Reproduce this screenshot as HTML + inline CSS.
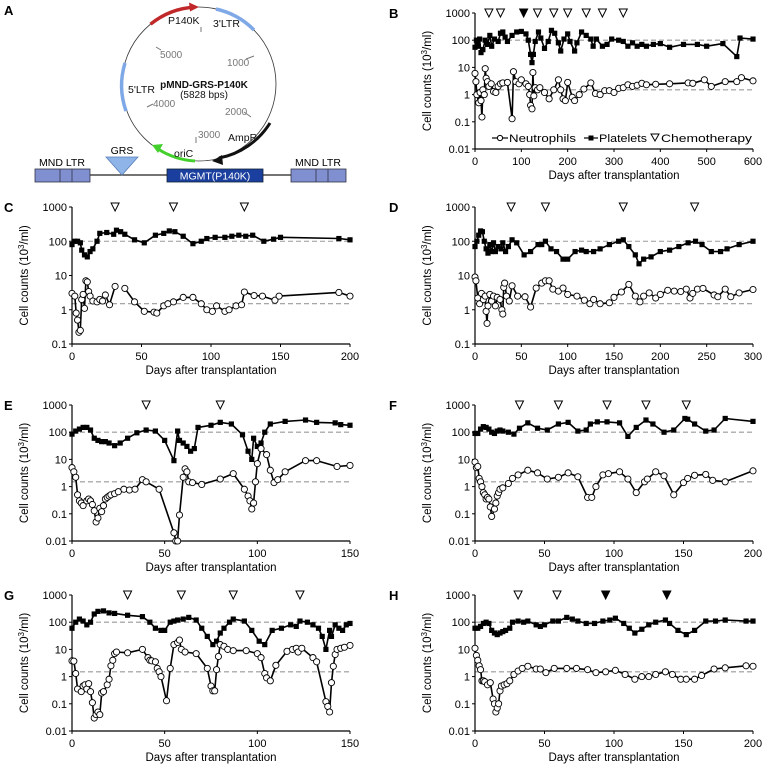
<!DOCTYPE html>
<html><head><meta charset="utf-8"><style>
body{margin:0;background:#fff}
svg{display:block;font-family:"Liberation Sans",sans-serif}
</style></head><body>
<svg id="fig" width="768" height="773" viewBox="0 0 768 773" xmlns="http://www.w3.org/2000/svg">
<g>
<text x="4" y="15" font-size="13" font-weight="bold">A</text>
<circle cx="199" cy="84" r="77" fill="none" stroke="#333" stroke-width="0.8"/>
<path d="M150.5,24.2 A77,77 0 0 1 195,7.1" fill="none" stroke="#c0282a" stroke-width="3.5"/>
<polygon points="199,7 189,2.5 190,11.5" fill="#c0282a"/>
<path d="M216,9 A77,77 0 0 1 254,30" fill="none" stroke="#7fa8e6" stroke-width="3.5"/>
<path d="M270,123 A77,77 0 0 1 219,158" fill="none" stroke="#111" stroke-width="3"/>
<polygon points="212,161 222,155 223,165" fill="#111"/>
<path d="M195,161 A77,77 0 0 1 158,149" fill="none" stroke="#44d02c" stroke-width="3"/>
<polygon points="152,145 163,144 158,153" fill="#44d02c"/>
<path d="M126,111 A77,77 0 0 1 125,63" fill="none" stroke="#7fa8e6" stroke-width="3.5"/>
<g font-size="10.5" fill="#111">
<text x="168" y="24">P140K</text>
<text x="213" y="27">3'LTR</text>
<text x="128" y="93">5'LTR</text>
<text x="228" y="141">AmpR</text>
<text x="174" y="157">oriC</text>
<text x="204" y="88" font-weight="bold" text-anchor="middle" font-size="10">pMND-GRS-P140K</text>
<text x="204" y="98" text-anchor="middle" font-size="10">(5828 bps)</text>
</g>
<g font-size="10" fill="#777" stroke="none">
<line x1="201" y1="27" x2="201" y2="32" stroke="#777"/>
<text x="160" y="58">5000</text>
<line x1="156" y1="47" x2="161" y2="50" stroke="#777"/>
<text x="227" y="66">1000</text>
<line x1="246" y1="59" x2="254" y2="56" stroke="#777"/>
<text x="153" y="107">4000</text>
<line x1="147" y1="107" x2="153" y2="104" stroke="#777"/>
<text x="225" y="115">2000</text>
<line x1="244" y1="112" x2="251" y2="117" stroke="#777"/>
<text x="198" y="138">3000</text>
<line x1="196" y1="137" x2="196" y2="143" stroke="#777"/>
</g>
<line x1="90" y1="175" x2="291" y2="175" stroke="#222" stroke-width="1.2"/>
<g stroke="#334" stroke-width="0.8" fill="#7f8fcf">
<rect x="35" y="169" width="55" height="13"/><line x1="60" y1="169" x2="60" y2="182"/><line x1="72" y1="169" x2="72" y2="182"/>
</g>
<g stroke="#334" stroke-width="0.8" fill="#7f8fcf">
<rect x="291" y="169" width="55" height="13"/><line x1="316" y1="169" x2="316" y2="182"/><line x1="328" y1="169" x2="328" y2="182"/>
</g>
<text x="62" y="166" font-size="10.5" text-anchor="middle">MND LTR</text>
<text x="318" y="166" font-size="10.5" text-anchor="middle">MND LTR</text>
<polygon points="106,157 138,157 122,175" fill="#8fb4e8" stroke="#5a7fb8" stroke-width="0.8"/>
<text x="122" y="154" font-size="10.5" text-anchor="middle">GRS</text>
<rect x="167" y="169" width="96" height="13" fill="#1a3f9e" stroke="#123" stroke-width="0.8"/>
<text x="215" y="179.5" font-size="10.5" fill="#fff" text-anchor="middle">MGMT(P140K)</text>
</g>
</svg>
<script>
// ===== Panel B =====
const bPlateDays=[0,3,6,10,13,17,22,27,32,36,42,50,55,60,65,70,80,90,100,110,115,120,123,126,130,137,142,150,158,165,172,180,185,192,200,205,215,220,230,240,250,255,262,275,285,295,310,320,330,340,350,360,370,385,400,420,450,480,500,535,565,572,600];
const bPlateVals=[55,100,60,110,35,45,100,70,150,60,110,90,180,200,130,90,150,200,210,170,100,30,15,30,90,200,120,50,90,230,180,80,40,110,170,90,40,80,200,150,110,60,110,60,70,110,100,90,60,80,60,70,60,70,75,55,70,70,60,75,25,120,110];
const bNeuDays=[0,2,4,8,11,13,15,17,20,22,24,27,30,35,40,45,50,55,60,70,80,83,88,95,100,110,115,118,120,123,125,127,130,135,140,150,160,170,180,185,190,195,200,210,215,225,235,250,260,270,280,290,300,310,320,330,340,350,360,370,390,420,460,470,495,510,540,565,575,600];
const bNeuVals=[6,3,1,0.5,1.2,0.6,0.15,1.5,1,9,4,3,2,2.5,1.3,1.2,2,2.5,2.7,2.8,0.13,7,3,2.5,3.5,2.5,2,1,0.4,0.3,6.5,0.9,1.8,1.5,1.8,1.2,0.7,1.5,3.5,1.5,0.7,0.6,2.8,0.8,0.6,1,1.6,2.7,1.1,1,1.4,1.4,1.2,1.7,1.8,2.3,2,2.2,2.6,2.3,2.4,2.5,2.7,2.6,3.5,2,3,3,4.2,3.2];
const bChemoOpen=[30,55,135,170,200,240,275,320];
const bChemoFilled=[105];
// ===== Panel C =====
const cPlateDays=[0,2,4,6,7,9,11,13,15,18,20,25,30,32,35,38,45,52,60,66,70,74,80,87,93,97,103,110,115,120,125,130,138,145,150,192,200];
const cPlateVals=[80,100,100,90,55,40,35,50,60,100,170,180,160,210,190,160,110,90,150,170,200,190,140,85,100,120,130,130,140,150,140,150,100,115,130,120,110];
const cNeuDays=[0,2,3,4,5,6,7,8,9,10,11,12,13,15,18,20,22,24,27,31,null,38,45,52,59,61,66,69,73,80,87,93,97,101,104,110,113,118,122,124,131,137,146,149,192,200];
const cNeuVals=[3,2.5,0.8,0.5,0.22,0.25,2,2.8,1.1,7,6.5,3.4,2.5,1.8,1.7,2,1.8,2.7,1.4,4.8,null,4.2,1.7,0.9,0.85,0.8,1.3,1.5,1.7,2.3,2.3,1.5,1,0.9,1.3,0.9,1,1.3,1.4,3.3,2.6,2.5,1.9,2.5,3.2,2.5];
const cChemoOpen=[31,73,124];
const cChemoFilled=[];
// ===== Panel D =====
const dPlateDays=[0,2,4,6,8,10,12,14,16,18,20,22,25,28,30,33,36,40,45,53,60,68,72,76,82,88,95,100,108,115,120,128,135,145,155,160,166,173,177,182,190,200,210,220,230,238,245,255,265,272,285,300];
const dPlateVals=[70,100,150,200,190,100,60,45,80,50,90,50,70,60,90,50,70,110,90,40,50,80,80,100,60,50,30,30,50,55,50,50,60,80,100,110,70,40,22,30,35,50,55,70,90,100,80,50,50,60,80,100];
const dNeuDays=[0,1,3,5,7,9,11,12,13,14,16,18,20,22,24,27,29,30,31,32,34,37,40,46,54,60,66,72,76,80,84,90,95,100,110,118,124,128,135,145,150,158,166,173,178,182,188,195,200,208,215,222,228,232,235,240,246,258,262,270,276,285,300];
const dNeuVals=[9,7,2.2,1.5,3,2,2.5,0.9,0.4,1.3,2.8,1.8,2.5,1.3,2.3,2,1,0.75,4.5,6,2.5,1.8,5,2.5,2.4,1.2,4.3,6,7,7,4,3.5,4.3,2.8,2.5,1.9,1.5,2,1.5,1.6,2.3,3.3,5.5,2.5,1.7,2.5,3.1,2.2,2.8,3.7,3.5,3.4,4,2.2,3,4,4.2,2.7,2.4,4,2.4,3.1,3.9];
const dChemoOpen=[39,76,160,237];
const dChemoFilled=[];
// ===== Panel E =====
const ePlateDays=[0,2,4,6,8,10,12,14,16,18,20,23,26,30,35,40,45,50,55,57,58,60,62,64,66,68,75,80,86,92,95,97,98,100,102,104,107,115,126,132,142,145,150];
const ePlateVals=[85,110,130,150,150,120,60,50,45,45,40,32,40,60,95,120,110,50,9,110,50,40,30,20,25,150,180,230,200,80,20,10,60,30,40,100,200,250,280,230,220,190,180];
const eNeuDays=[0,1,2,3,4,5,6,8,9,10,11,12,13,14,15,16,17,18,19,20,21,23,25,28,31,34,38,40,47,55,56,57,58,60,61,62,63,65,70,80,87,93,95,96,97,98,99,100,102,105,107,109,111,115,126,132,143,150];
const eNeuVals=[5,3.5,2.2,0.5,0.3,0.25,0.2,0.3,0.35,0.3,0.22,0.13,0.05,0.07,0.16,0.12,0.2,0.35,0.4,0.45,0.5,0.55,0.65,0.8,0.75,0.8,1.8,1.5,0.8,0.02,0.01,0.01,0.09,2.2,4.5,3.5,1.5,1.4,1.2,1.9,3,0.8,0.45,0.3,0.15,0.25,1.5,7,25,15,4,1.4,1.8,3.5,9,9,5.5,6];
const eChemoOpen=[40,80];
const eChemoFilled=[];
// ===== Panel F =====
const fPlateDays=[0,2,4,6,8,10,12,14,16,18,20,24,28,32,38,45,52,60,67,74,80,83,88,95,104,110,116,123,128,136,143,151,153,158,166,172,180,200];
const fPlateVals=[90,90,130,160,150,130,100,90,110,120,110,100,85,140,220,140,120,200,230,110,120,200,240,240,220,70,150,280,200,100,120,320,300,200,110,120,320,250];
const fNeuDays=[0,1,2,3,4,5,6,7,8,9,10,11,12,14,15,16,17,18,20,24,27,31,38,45,52,60,67,74,81,84,87,92,96,104,110,116,122,124,130,136,143,150,153,158,166,171,180,200];
const fNeuVals=[8,5,5.5,2,1.5,1,0.6,0.5,0.35,0.4,0.35,0.18,0.08,0.15,0.25,0.45,0.6,0.8,0.9,1.3,2,2.7,4,3.2,1.9,2.2,3.2,2.3,0.4,0.4,1,2.7,3,3.5,1.9,0.6,1.5,1.9,3.5,2.5,0.5,1.4,2,2.6,2.8,1.7,1.5,3.8];
const fChemoOpen=[32,60,95,123,152];
const fChemoFilled=[];
// ===== Panel G =====
const gPlateDays=[0,2,4,6,8,10,12,14,17,20,23,30,38,42,45,48,50,53,55,57,60,63,67,70,73,76,78,80,82,85,87,93,97,101,104,108,113,118,121,123,127,130,133,135,137,139,140,142,144,146,148,150];
const gPlateVals=[60,100,130,110,80,100,200,250,260,220,210,180,160,100,60,50,50,100,110,120,130,150,120,60,30,15,20,40,60,100,130,110,50,20,15,50,60,80,70,110,100,80,60,30,10,50,30,80,60,50,80,90];
const gNeuDays=[0,1,2,3,5,6,7,8,9,10,11,12,13,14,15,16,17,19,20,21,22,23,24,30,38,41,42,43,45,46,47,48,51,53,55,57,58,59,61,67,73,75,76,77,78,79,80,82,84,87,94,100,102,104,105,107,110,116,119,121,122,124,130,132,137,138,139,140,141,142,143,145,147,150];
const gNeuVals=[3.8,3.7,1.3,0.35,0.28,0.45,0.5,0.35,0.55,0.28,0.11,0.03,0.04,0.05,0.04,0.25,0.28,0.5,0.8,2.5,4,7,8,7.5,10,5,4,3.8,3.5,2,1.5,1,0.13,2,15,18,22,10,8,7,2,0.45,0.3,0.3,1.8,5.5,15,13,10,9,9,7,5,1.3,0.9,0.7,2.6,8.5,10,11,8,11,5,3.5,0.12,0.08,0.05,0.6,2.4,6.5,10,11,12,14];
const gChemoOpen=[30,59,87,123];
const gChemoFilled=[];
// ===== Panel H =====
const hPlateDays=[0,2,4,6,8,10,12,14,16,18,20,22,25,27,31,35,38,44,47,50,56,60,66,70,74,80,86,92,97,101,107,111,115,120,125,130,137,140,146,152,158,166,173,180,195,200];
const hPlateVals=[60,60,70,90,100,90,50,40,35,40,45,50,60,100,110,100,110,80,70,80,110,110,150,130,110,90,90,110,120,140,90,60,40,55,80,100,120,90,50,35,50,110,110,120,110,110];
const hNeuDays=[0,1,2,3,4,5,6,7,9,11,13,14,15,16,17,18,19,21,23,25,28,31,34,38,44,47,51,57,66,73,81,87,94,101,108,115,120,125,130,137,142,148,152,158,163,172,180,195,200];
const hNeuVals=[11,6,4,2.5,1.8,0.7,0.7,0.65,0.5,0.6,0.15,0.1,0.05,0.07,0.1,0.3,0.45,0.5,0.55,0.7,1.2,1.6,2,2.4,1.9,1.9,1.4,2,2,2,1.8,1.4,1.5,1.7,1.2,0.8,1,1,1.2,1.5,1.2,0.8,0.8,0.8,1.1,1.9,2.1,2.5,2.4];
const hChemoOpen=[31,59];
const hChemoFilled=[94,138];

const NS='http://www.w3.org/2000/svg';
const svg=document.getElementById('fig');
function mk(tag,attrs,parent){const e=document.createElementNS(NS,tag);for(const k in attrs)e.setAttribute(k,attrs[k]);parent.appendChild(e);return e;}

function panel(cfg){
  const g=mk('g',{},svg);
  
  
  const xs=d=>cfg.x0+(d-0)/cfg.xmax*(cfg.x1-cfg.x0);
  const ys=v=>cfg.yTop+(Math.log10(cfg.vmax)-Math.log10(v))/(Math.log10(cfg.vmax)-Math.log10(cfg.vmin))*(cfg.yBot-cfg.yTop);
  const lab=mk('text',{x:cfg.lx,y:cfg.yTop+5,'font-size':13,'font-weight':'bold'},g);
  lab.textContent=cfg.id.toUpperCase();
  
  
  [100,1.5].forEach(v=>{
    const l=mk('line',{x1:cfg.x0,x2:cfg.x1,y1:ys(v),y2:ys(v),stroke:'#999','stroke-width':1.1,'stroke-dasharray':'5,3'},g);
    
    
  });
  const ax=mk('path',{d:`M${cfg.x0},${cfg.yTop}V${cfg.yBot}H${cfg.x1}`,fill:'none',stroke:'#000','stroke-width':1.2},g);
  
  
  cfg.yticks.forEach((v,i)=>{
    mk('line',{x1:cfg.x0-3,x2:cfg.x0,y1:ys(v),y2:ys(v),stroke:'#000'},g);
    const t=mk('text',{x:cfg.x0-5,y:ys(v)+4,'font-size':11,'text-anchor':'end'},g);
    t.textContent=cfg.ylabels[i];
    
    
  });
  cfg.xticks.forEach(v=>{
    mk('line',{x1:xs(v),x2:xs(v),y1:cfg.yBot,y2:cfg.yBot+3,stroke:'#000'},g);
    const t=mk('text',{x:xs(v),y:cfg.yBot+16,'font-size':11,'text-anchor':'middle'},g);
    t.textContent=String(v);
    
    
  });
  const xt=mk('text',{x:(cfg.x0+cfg.x1)/2,y:cfg.yBot+30,'font-size':11.5,'text-anchor':'middle'},g);
  xt.textContent='Days after  transplantation';
  
  
  const cy=(cfg.yTop+cfg.yBot)/2;
  const yt=mk('text',{x:cfg.x0-44,y:cy,'font-size':11.5,'text-anchor':'middle',transform:`rotate(-90 ${cfg.x0-44} ${cy})`},g);
  yt.innerHTML='Cell counts (10<tspan font-size="8" dy="-4">3</tspan><tspan dy="4">/ml)</tspan>';
  
  
  function series(days,vals,kind){
    let d='',pen=false;
    days.forEach((x,i)=>{if(x===null){pen=false;return;}d+=(pen?'L':'M')+xs(x).toFixed(1)+','+ys(vals[i]).toFixed(1);pen=true;});
    const p=mk('path',{d:d,fill:'none',stroke:'#000','stroke-width':1.6,'stroke-linejoin':'round'},g);
    
    
    days.forEach((x,i)=>{
      if(x===null)return;
      let m;
      if(kind==='neutrophils'){m=mk('circle',{cx:xs(x),cy:ys(vals[i]),r:3.1,fill:'#fff',stroke:'#000','stroke-width':0.9},g);}
      else{m=mk('rect',{x:xs(x)-2.6,y:ys(vals[i])-2.6,width:5.2,height:5.2,fill:'#000'},g);}
      
      
    });
  }
  series(cfg.pd,cfg.pv,'platelets');
  series(cfg.nd,cfg.nv,'neutrophils');
  function tri(x,filled){
    const X=xs(x),Y=cfg.yTop;
    const t=mk('polygon',{points:`${X-4},${Y-4} ${X+4},${Y-4} ${X},${Y+4}`,fill:filled?'#000':'#fff',stroke:'#000','stroke-width':1},g);
    
    
  }
  cfg.co.forEach(x=>tri(x,false));
  cfg.cf.forEach(x=>tri(x,true));
  return {g,xs,ys};
}
const Y5=[1000,100,10,1,0.1,0.01],L5=['1000','100','10','1','0.1','0.01'];
const Y4=[1000,100,10,1,0.1],L4=['1000','100','10','1','0.1'];
const B=panel({id:'b',lx:389,x0:475,x1:753,xmax:600,yTop:13,yBot:149,vmax:1000,vmin:0.01,yticks:Y5,ylabels:L5,xticks:[0,100,200,300,400,500,600],pd:bPlateDays,pv:bPlateVals,nd:bNeuDays,nv:bNeuVals,co:bChemoOpen,cf:bChemoFilled});
panel({id:'c',lx:4,x0:72,x1:350,xmax:200,yTop:207,yBot:344,vmax:1000,vmin:0.1,yticks:Y4,ylabels:L4,xticks:[0,50,100,150,200],pd:cPlateDays,pv:cPlateVals,nd:cNeuDays,nv:cNeuVals,co:cChemoOpen,cf:cChemoFilled});
panel({id:'d',lx:389,x0:475,x1:753,xmax:300,yTop:207,yBot:344,vmax:1000,vmin:0.1,yticks:Y4,ylabels:L4,xticks:[0,50,100,150,200,250,300],pd:dPlateDays,pv:dPlateVals,nd:dNeuDays,nv:dNeuVals,co:dChemoOpen,cf:dChemoFilled});
panel({id:'e',lx:4,x0:72,x1:350,xmax:150,yTop:405,yBot:541,vmax:1000,vmin:0.01,yticks:Y5,ylabels:L5,xticks:[0,50,100,150],pd:ePlateDays,pv:ePlateVals,nd:eNeuDays,nv:eNeuVals,co:eChemoOpen,cf:eChemoFilled});
panel({id:'f',lx:389,x0:475,x1:753,xmax:200,yTop:405,yBot:541,vmax:1000,vmin:0.01,yticks:Y5,ylabels:L5,xticks:[0,50,100,150,200],pd:fPlateDays,pv:fPlateVals,nd:fNeuDays,nv:fNeuVals,co:fChemoOpen,cf:fChemoFilled});
panel({id:'g',lx:4,x0:72,x1:350,xmax:150,yTop:595,yBot:731,vmax:1000,vmin:0.01,yticks:Y5,ylabels:L5,xticks:[0,50,100,150],pd:gPlateDays,pv:gPlateVals,nd:gNeuDays,nv:gNeuVals,co:gChemoOpen,cf:gChemoFilled});
panel({id:'h',lx:389,x0:475,x1:753,xmax:200,yTop:595,yBot:731,vmax:1000,vmin:0.01,yticks:Y5,ylabels:L5,xticks:[0,50,100,150,200],pd:hPlateDays,pv:hPlateVals,nd:hNeuDays,nv:hNeuVals,co:hChemoOpen,cf:hChemoFilled});

// legend in B
const lg=mk('g',{},B.g);


const ly=138;
mk('rect',{x:490,y:129,width:264,height:17,fill:'#fff'},lg);
mk('line',{x1:492,x2:508,y1:ly,y2:ly,stroke:'#000','stroke-width':1.2},lg);
mk('circle',{cx:500,cy:ly,r:2.6,fill:'#fff',stroke:'#000'},lg);
const t1=mk('text',{x:509,y:ly+4,'font-size':11,textLength:67,lengthAdjust:'spacingAndGlyphs'},lg);t1.textContent='Neutrophils';


mk('line',{x1:584,x2:598,y1:ly,y2:ly,stroke:'#000','stroke-width':1.2},lg);
mk('rect',{x:588.5,y:ly-2.5,width:5,height:5,fill:'#000'},lg);
const t2=mk('text',{x:599,y:ly+4,'font-size':11,textLength:48,lengthAdjust:'spacingAndGlyphs'},lg);t2.textContent='Platelets';


mk('polygon',{points:'651,134 659,134 655,141',fill:'#fff',stroke:'#000'},lg);
const t3=mk('text',{x:661,y:ly+4,'font-size':11,textLength:91,lengthAdjust:'spacingAndGlyphs'},lg);t3.textContent='Chemotherapy';


</script>
</body></html>
